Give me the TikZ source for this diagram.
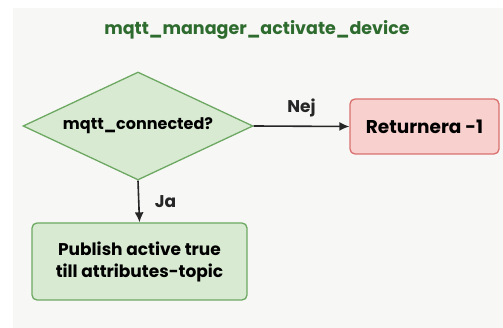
\documentclass[tikz,border=0pt]{standalone}
\usepackage{fontspec}
\setmainfont{Poppins}
\usetikzlibrary{shapes.geometric,arrows.meta}

\definecolor{bgpanel}{HTML}{F7F8F5}
\definecolor{titlegreen}{HTML}{2E6B2E}
\definecolor{okfill}{HTML}{D8EBD2}
\definecolor{okline}{HTML}{6DA862}
\definecolor{errfill}{HTML}{F8D0CE}
\definecolor{errline}{HTML}{D9706E}

\begin{document}
\begin{tikzpicture}[x=1pt,y=-1pt,
	font=\bfseries\fontsize{17}{22}\selectfont,
	decision/.style={diamond, draw=okline, fill=okfill, line width=1.3pt, aspect=2.13, inner sep=0pt, minimum width=230pt, minimum height=108pt, font=\bfseries\fontsize{16}{20}\selectfont},
	okbox/.style={rectangle, rounded corners=5pt, draw=okline, fill=okfill, line width=1.3pt, minimum width=215pt, minimum height=77pt, align=center},
	errbox/.style={rectangle, rounded corners=5pt, draw=errline, fill=errfill, line width=1.3pt, minimum width=149pt, minimum height=55pt, font=\bfseries\fontsize{18.5}{22}\selectfont},
	flow/.style={-{Latex[length=10pt,width=9pt]}, line width=1.6pt, black!85}]
	\useasboundingbox (0,0) rectangle (503,328);
	\fill[bgpanel] (13,8) rectangle (503,328);
	
	\node[text=titlegreen, font=\bfseries\fontsize{17.5}{22}\selectfont] (title) at (257,30) {mqtt\_manager\_activate\_device};
	
	\node[decision] (conn) at (138,126) {mqtt\_connected?};
	\node[errbox] (ret) at (424.5,126.5) {Returnera -1};
	\node[okbox] (pub) at (139.5,261.5) {Publish active true\\till attributes-topic};
	
	\draw[flow] (conn.east) -- (ret.west) node[pos=0.5, above=5pt] {Nej};
	\draw[flow] (conn.south) -- (pub.north) node[pos=0.5, right=12pt] {Ja};
\end{tikzpicture}
\end{document}
